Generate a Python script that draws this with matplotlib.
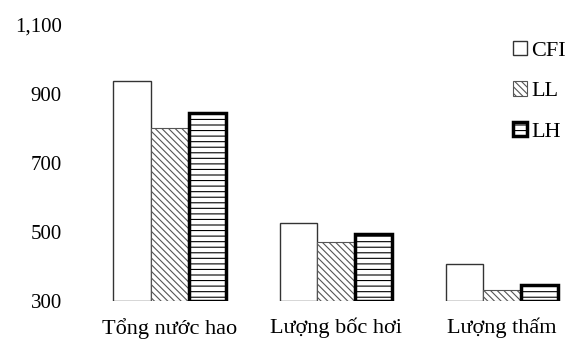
import matplotlib
matplotlib.use("Agg")
import matplotlib.pyplot as plt
import numpy as np

# --------- Data ---------
categories = ["Tổng nước hao", "Lượng bốc hơi", "Lượng thấm"]
series_names = ["CFI", "LL", "LH"]
cfi = [938, 527, 407]
ll = [800, 470, 332]
lh = [845, 495, 346]
y_ticks = [300, 500, 700, 900, 1100]

plt.rcParams["font.family"] = ["Liberation Serif", "DejaVu Serif"]
plt.rcParams["hatch.linewidth"] = 0.8

fig = plt.figure(figsize=(5.7, 3.42), dpi=100)
ax = fig.add_axes([0.123, 0.12, 0.877, 0.807])

x = np.arange(len(categories))
width = 0.226
styles = [
    dict(facecolor="white", edgecolor="#333333", linewidth=1.0, hatch=None),
    dict(facecolor="white", edgecolor="#555555", linewidth=0.8, hatch="\\\\\\\\\\"),
    dict(facecolor="white", edgecolor="black", linewidth=2.5, hatch="---"),
]
for i, (name, vals) in enumerate(zip(series_names, [cfi, ll, lh])):
    ax.bar(x + (i - 1) * width, np.array(vals) - 300, width, bottom=300,
           label=name, **styles[i])

ax.set_ylim(300, 1100)
ax.set_xlim(-0.60, 2.41)
ax.set_yticks(y_ticks)
ax.set_yticklabels([f"{v:,}" for v in y_ticks], fontsize=15)
ax.set_xticks(x)
ax.set_xticklabels(categories, fontsize=16)
ax.tick_params(axis="both", length=0, pad=6)
ax.tick_params(axis="x", pad=12)
for s in ax.spines.values():
    s.set_visible(False)

leg = ax.legend(loc="upper left", bbox_to_anchor=(0.86, 0.99), frameon=False,
                fontsize=16, handlelength=0.6, handleheight=0.6,
                handletextpad=0.2, labelspacing=0.92, borderaxespad=0.2)

fig.savefig("out.png", dpi=100)
